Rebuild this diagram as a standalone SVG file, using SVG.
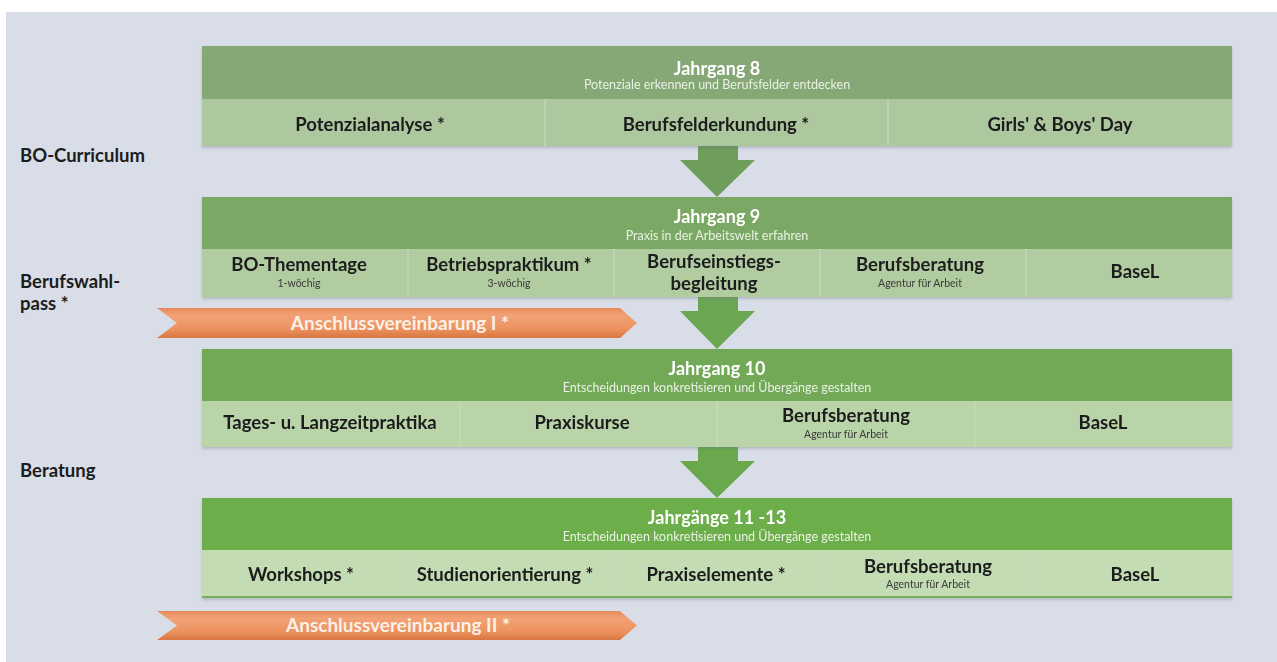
<svg xmlns="http://www.w3.org/2000/svg" width="1277" height="662" viewBox="0 0 1277 662">
  <style>
    .lbl{font-family:Lato,"Open Sans","Liberation Sans",sans-serif;font-weight:bold;font-size:18.5px;fill:#1c1c1c}
    .hd{font-family:Lato,"Open Sans","Liberation Sans",sans-serif;font-weight:bold;font-size:18px;fill:#ffffff;text-anchor:middle}
    .sub{font-family:Lato,"Open Sans","Liberation Sans",sans-serif;font-size:12.5px;fill:#e9f1e4;text-anchor:middle}
    .cell{font-family:Lato,"Open Sans","Liberation Sans",sans-serif;font-weight:bold;font-size:18.5px;fill:#1c1c1c;text-anchor:middle}
    .csub{font-family:Lato,"Open Sans","Liberation Sans",sans-serif;font-size:10.5px;fill:#3a3a3a;text-anchor:middle}
    .div{stroke:#c9dcbd;stroke-width:1}
    .otxt{font-family:Lato,"Open Sans","Liberation Sans",sans-serif;font-weight:bold;font-size:19px;fill:#fbf0e6;text-anchor:middle}
  </style>
  <defs>
    <filter id="sh" x="-2%" y="-10%" width="104%" height="125%">
      <feDropShadow dx="0" dy="2" stdDeviation="1.5" flood-color="#6b7280" flood-opacity="0.35"/>
    </filter>
    <linearGradient id="og" x1="0" y1="0" x2="0" y2="1">
      <stop offset="0" stop-color="#e48a58"/>
      <stop offset="0.25" stop-color="#f2a276"/>
      <stop offset="0.7" stop-color="#ec925f"/>
      <stop offset="1" stop-color="#d9763f"/>
    </linearGradient>
  </defs>

  <rect x="0" y="0" width="1277" height="662" fill="#ffffff"/>
  <rect x="6" y="12" width="1271" height="650" fill="#d9dde7"/>

  <g id="side-labels">
    <text class="lbl" x="20" y="162">BO-Curriculum</text>
    <text class="lbl" x="20" y="288">Berufswahl-</text>
    <text class="lbl" x="20" y="310">pass *</text>
    <text class="lbl" x="20" y="477">Beratung</text>
  </g>

  <g id="connectors">
    <path d="M698,146 L738,146 L738,160 L755,160 L717,197 L680,160 L698,160 Z" fill="#6f9d5c"/>
    <path d="M698,297 L738,297 L738,311 L755,311 L717,349 L680,311 L698,311 Z" fill="#6ba653"/>
    <path d="M698,447 L738,447 L738,461 L755,461 L717,498 L680,461 L698,461 Z" fill="#69a84c"/>
  </g>

  <g id="jahrgang8" filter="url(#sh)">
    <rect x="202" y="46" width="1030" height="53" fill="#86a877"/>
    <rect x="202" y="99" width="1030" height="47" fill="#adc89f"/>
    <line class="div" x1="545" y1="99" x2="545" y2="146"/>
    <line class="div" x1="888" y1="99" x2="888" y2="146"/>
    <text class="hd" x="717" y="74.5">Jahrgang 8</text>
    <text class="sub" x="717" y="89">Potenziale erkennen und Berufsfelder entdecken</text>
    <text class="cell" x="370" y="130.5">Potenzialanalyse *</text>
    <text class="cell" x="716" y="130.5">Berufsfelderkundung *</text>
    <text class="cell" x="1060" y="130.5">Girls' &amp; Boys' Day</text>
  </g>

  <g id="jahrgang9" filter="url(#sh)">
    <rect x="202" y="197" width="1030" height="52" fill="#7ba865"/>
    <rect x="202" y="249" width="1030" height="48" fill="#b1cca1"/>
    <line class="div" x1="408" y1="249" x2="408" y2="297"/>
    <line class="div" x1="614" y1="249" x2="614" y2="297"/>
    <line class="div" x1="820" y1="249" x2="820" y2="297"/>
    <line class="div" x1="1026" y1="249" x2="1026" y2="297"/>
    <text class="hd" x="717" y="222.5">Jahrgang 9</text>
    <text class="sub" x="717" y="239.5">Praxis in der Arbeitswelt erfahren</text>
    <text class="cell" x="299" y="270.5">BO-Thementage</text>
    <text class="csub" x="299" y="287">1-wöchig</text>
    <text class="cell" x="509" y="270.5">Betriebspraktikum *</text>
    <text class="csub" x="509" y="287">3-wöchig</text>
    <text class="cell" x="714" y="268">Berufseinstiegs-</text>
    <text class="cell" x="714" y="289.5">begleitung</text>
    <text class="cell" x="920" y="270.5">Berufsberatung</text>
    <text class="csub" x="920" y="287">Agentur für Arbeit</text>
    <text class="cell" x="1135" y="278">BaseL</text>
  </g>

  <g id="anschluss1">
    <path d="M157,308 L620,308 L637,323 L620,338 L157,338 L177,323 Z" fill="url(#og)"/>
    <text class="otxt" x="400" y="329.5">Anschlussvereinbarung I *</text>
  </g>

  <g id="jahrgang10" filter="url(#sh)">
    <rect x="202" y="349" width="1030" height="52" fill="#71a957"/>
    <rect x="202" y="401" width="1030" height="46" fill="#b9d4a8"/>
    <line class="div" x1="460" y1="401" x2="460" y2="447"/>
    <line class="div" x1="717" y1="401" x2="717" y2="447"/>
    <line class="div" x1="975" y1="401" x2="975" y2="447"/>
    <text class="hd" x="717" y="374.5">Jahrgang 10</text>
    <text class="sub" x="717" y="391.5">Entscheidungen konkretisieren und Übergänge gestalten</text>
    <text class="cell" x="330" y="428.5">Tages- u. Langzeitpraktika</text>
    <text class="cell" x="582" y="428.5">Praxiskurse</text>
    <text class="cell" x="846" y="421.5">Berufsberatung</text>
    <text class="csub" x="846" y="437.5">Agentur für Arbeit</text>
    <text class="cell" x="1103" y="428.5">BaseL</text>
  </g>

  <g id="jahrgang11-13" filter="url(#sh)">
    <rect x="202" y="498" width="1030" height="52" fill="#6cae49"/>
    <rect x="202" y="550" width="1030" height="48" fill="#c3dcb3"/>
    <rect x="202" y="596" width="1030" height="2" fill="#79ae5c"/>
    <line class="div" x1="408" y1="550" x2="408" y2="596"/>
    <line class="div" x1="614" y1="550" x2="614" y2="596"/>
    <line class="div" x1="820" y1="550" x2="820" y2="596"/>
    <line class="div" x1="1026" y1="550" x2="1026" y2="596"/>
    <text class="hd" x="717" y="523.5">Jahrgänge 11 -13</text>
    <text class="sub" x="717" y="541">Entscheidungen konkretisieren und Übergänge gestalten</text>
    <text class="cell" x="301" y="580.5">Workshops *</text>
    <text class="cell" x="505" y="580.5">Studienorientierung *</text>
    <text class="cell" x="716" y="580.5">Praxiselemente *</text>
    <text class="cell" x="928" y="572.5">Berufsberatung</text>
    <text class="csub" x="928" y="587.5">Agentur für Arbeit</text>
    <text class="cell" x="1135" y="580.5">BaseL</text>
  </g>

  <g id="anschluss2">
    <path d="M157,611 L620,611 L637,625.5 L620,640 L157,640 L177,625.5 Z" fill="url(#og)"/>
    <text class="otxt" x="398" y="632">Anschlussvereinbarung  II *</text>
  </g>
</svg>
